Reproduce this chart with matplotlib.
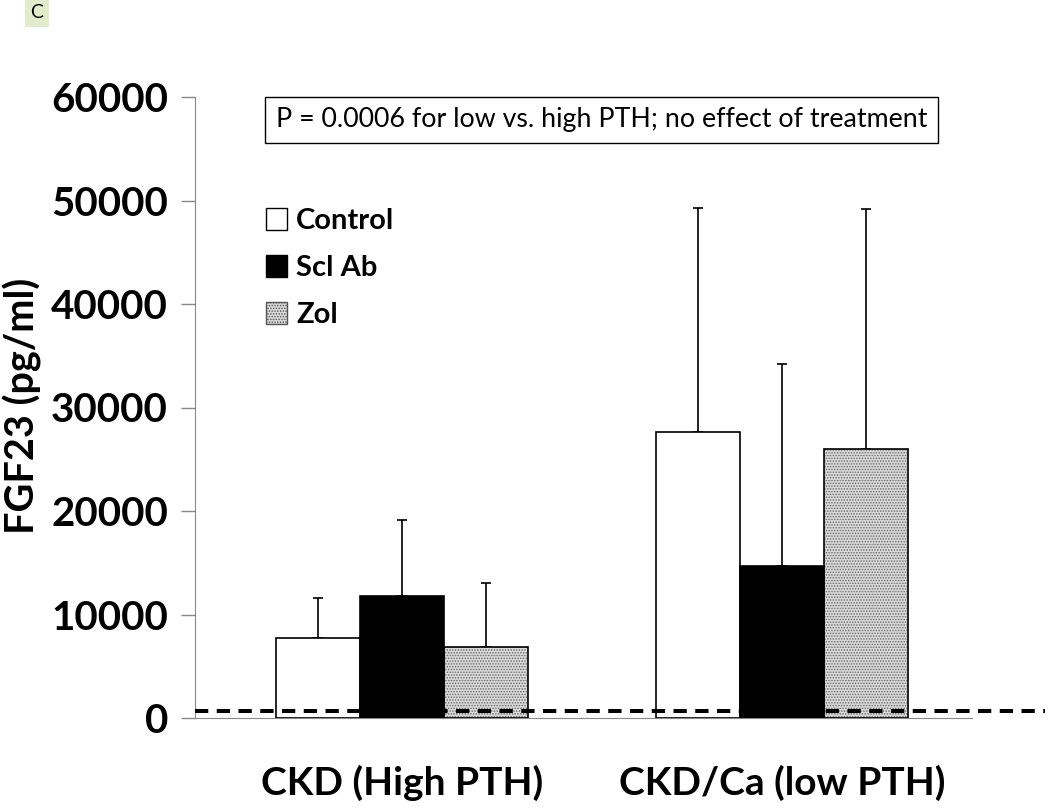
import matplotlib.pyplot as plt
from matplotlib.patches import Patch
import numpy as np

# data
groups = ["CKD (High PTH)", "CKD/Ca (low PTH)"]
series = ["Control", "Scl Ab", "Zol"]
means = {
    "Control": [7700, 27600],
    "Scl Ab": [11800, 14700],
    "Zol": [6900, 26000],
}
upper_err = {
    "Control": [3900, 21700],
    "Scl Ab": [7300, 19500],
    "Zol": [6100, 23200],
}
ref_level = 700
yticks = [0, 10000, 20000, 30000, 40000, 50000, 60000]

plt.rcParams["font.family"] = ["Lato", "DejaVu Sans"]
plt.rcParams["hatch.color"] = "#666666"
plt.rcParams["hatch.linewidth"] = 0.7

fig = plt.figure(figsize=(10.5, 8.08), dpi=100)
ax = fig.add_axes([195 / 1050, 1 - 718 / 808, 850 / 1050, (718 - 97) / 808])

x = np.arange(len(groups))
w = 0.221
offsets = [-w, 0, w]
styles = {
    "Control": dict(facecolor="white", hatch=None),
    "Scl Ab": dict(facecolor="black", hatch=None),
    "Zol": dict(facecolor="#d9d9d9", hatch="......"),
}

for s, off in zip(series, offsets):
    st = styles[s]
    ax.bar(x + off, means[s], w, color=st["facecolor"], hatch=st["hatch"],
           edgecolor="#666666" if st["hatch"] else "black", linewidth=0, zorder=2)
    ax.bar(x + off, means[s], w, fill=False, edgecolor="black", linewidth=1.2, zorder=3)
    ax.errorbar(x + off, means[s], yerr=[np.zeros(2), upper_err[s]], fmt="none",
                ecolor="black", elinewidth=1.2, capsize=3.3, capthick=1.2, zorder=1)

ax.axhline(ref_level, color="black", linestyle=(0, (3.3, 2.1)), linewidth=2.9, zorder=4)

ax.set_xlim(-0.545, 1.692)
ax.set_ylim(0, 60000)
ax.set_yticks(yticks)
ax.set_yticklabels([str(t) for t in yticks], fontsize=29, fontweight="bold")
ax.set_xticks(x)
ax.set_xticklabels(groups, fontsize=28, fontweight="bold")
ax.tick_params(axis="x", length=0, pad=34)
ax.tick_params(axis="y", length=10, width=1, color="#888888", pad=9.5)
for sp in ["top", "right"]:
    ax.spines[sp].set_visible(False)
ax.spines["left"].set_color("#888888")
ax.spines["bottom"].set_color("#888888")
ax.spines["bottom"].set_bounds(-0.545, 1.5)
ax.set_ylabel("FGF23 (pg/ml)", fontsize=28.5, fontweight="bold")
ax.yaxis.set_label_coords(-0.18, 0.502)

handles = [
    Patch(facecolor="white", edgecolor="black", linewidth=1),
    Patch(facecolor="black", edgecolor="black", linewidth=1),
    Patch(facecolor="#d9d9d9", edgecolor="#555555", hatch="......", linewidth=1),
]
ax.legend(handles, series, loc="upper left", bbox_to_anchor=(0.083, 0.821),
          frameon=False, prop=dict(family=["Lato", "DejaVu Sans"], weight="bold", size=21),
          handlelength=0.75, handleheight=0.75, handletextpad=0.3, labelspacing=0.72,
          borderaxespad=0, borderpad=0)

ax.text(0.478, 0.963, "P = 0.0006 for low vs. high PTH; no effect of treatment",
        transform=ax.transAxes, ha="center", va="center", fontsize=19.3,
        bbox=dict(boxstyle="square,pad=0.4", facecolor="white", edgecolor="black", linewidth=1))

fig.text(37 / 1050, 1 - 13 / 808, "C", ha="center", va="center", fontsize=14,
         bbox=dict(boxstyle="square,pad=0.3", facecolor="#e2eccd", edgecolor="none"))

fig.savefig("out.png", dpi=100)
